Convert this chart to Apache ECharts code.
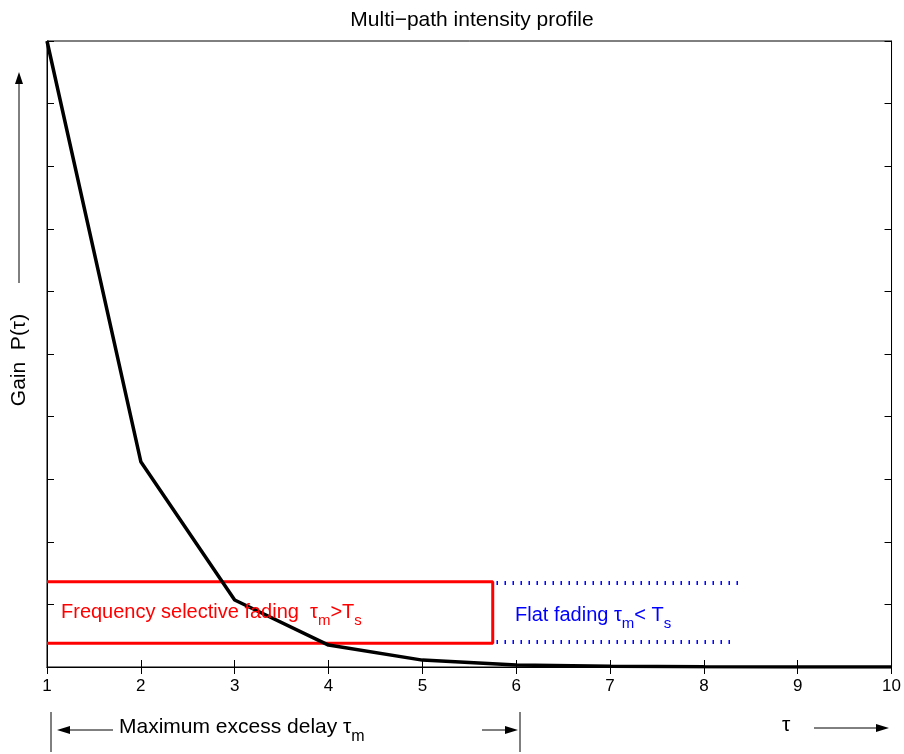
<!DOCTYPE html>
<html>
<head>
<meta charset="utf-8">
<script src="https://cdn.jsdelivr.net/npm/echarts@6/dist/echarts.min.js"></script>
<style>
  html, body { margin: 0; padding: 0; background: #fff; }
  #chart { width: 904px; height: 754px; }
</style>
</head>
<body>
<div id="chart"></div>
<script>
// delay values (x) and the multipath gain
var delays = [1, 2, 3, 4, 5, 6, 7, 8, 9, 10];
var gain = [1, 0.328, 0.107, 0.035, 0.011, 0.003, 0.001, 0.0004, 0.0001, 0.0001];

// red box = frequency selective region, blue dotted = flat fading region
var selectiveBox = [[1, 0.136], [5.75, 0.136], [5.75, 0.038], [1, 0.038]];
var flatTop = [[5.79, 0.134], [8.43, 0.134]];
var flatBottom = [[5.79, 0.040], [8.33, 0.040]];

var font = 'Liberation Sans, Arial, Helvetica, sans-serif';
var chart = echarts.init(document.getElementById('chart'));

function arrowHead(x, y, dir) {
    // small filled triangle, dir: 1 = right, -1 = left, 'up'
    if (dir === 'up') {
        return { type: 'polygon', shape: { points: [[x, y], [x - 4, y + 12], [x + 4, y + 12]] }, style: { fill: '#000' } };
    }
    return { type: 'polygon', shape: { points: [[x, y], [x - dir * 13, y - 4], [x - dir * 13, y + 4]] }, style: { fill: '#000' } };
}

function subText(str, color, size, subSize, drop) {
    return {
        text: str,
        rich: {
            n: { fontFamily: font, fontSize: size, fill: color, verticalAlign: 'top', lineHeight: size + 2 },
            s: { fontFamily: font, fontSize: subSize, fill: color, verticalAlign: 'top', lineHeight: size + 2, padding: [drop, 0, 0, 0] }
        }
    };
}

var axisLine = { show: true, lineStyle: { color: '#000', width: 1 } };
var tick = { show: true, inside: true, length: 7, lineStyle: { color: '#000' } };

var option = {
    animation: false,
    backgroundColor: '#fff',
    title: {
        text: 'Multi\u2212path intensity profile',
        left: 467, top: 5, textAlign: 'center',
        textStyle: { fontFamily: font, fontSize: 21, fontWeight: 'normal', color: '#000' }
    },
    grid: { left: 47, right: 12, top: 41, bottom: 87, show: true, borderColor: '#000', borderWidth: 1 },
    xAxis: [{
        type: 'value', min: 1, max: 10, interval: 1,
        axisLine: axisLine, axisTick: tick,
        axisLabel: { fontFamily: font, fontSize: 17, color: '#000', margin: 11 },
        splitLine: { show: false }
    }, {
        type: 'value', min: 1, max: 10, interval: 1, position: 'top',
        axisLine: axisLine, axisTick: tick,
        axisLabel: { show: false }, splitLine: { show: false }
    }],
    yAxis: [{
        type: 'value', min: 0, max: 1, interval: 0.1,
        axisLine: axisLine, axisTick: tick,
        axisLabel: { show: false }, splitLine: { show: false }
    }, {
        type: 'value', min: 0, max: 1, interval: 0.1, position: 'right',
        axisLine: axisLine, axisTick: tick,
        axisLabel: { show: false }, splitLine: { show: false }
    }],
    series: [{
        type: 'line', data: delays.map(function (d, i) { return [d, gain[i]]; }),
        showSymbol: false, lineStyle: { color: '#000', width: 3.5 }, z: 3
    }, {
        type: 'line', data: selectiveBox,
        showSymbol: false, lineStyle: { color: '#ff0000', width: 3 }, z: 2
    }, {
        type: 'line', data: flatTop,
        showSymbol: false, lineStyle: { color: '#0000ff', width: 4, type: [1.5, 6.5] }, z: 2
    }, {
        type: 'line', data: flatBottom,
        showSymbol: false, lineStyle: { color: '#0000ff', width: 4, type: [1.5, 6.5] }, z: 2
    }],
    graphic: [
        {
            type: 'text', left: 61, top: 602, z: 10,
            style: subText('{n|Frequency selective fading  \u03c4}{s|m}{n|>T}{s|s}', '#ff0000', 20, 15, 11)
        },
        {
            type: 'text', left: 515, top: 605, z: 10,
            style: subText('{n|Flat fading \u03c4}{s|m}{n|< T}{s|s}', '#0000ff', 20, 15, 11)
        },
        // y axis label with upward arrow
        {
            type: 'text', x: 9, y: 360, rotation: Math.PI / 2, z: 10,
            style: {
                text: 'Gain  P(\u03c4)', fontFamily: font, fontSize: 21, fill: '#000',
                align: 'center', verticalAlign: 'top'
            }
        },
        { type: 'line', shape: { x1: 19, y1: 283, x2: 19, y2: 80 }, style: { stroke: '#000', lineWidth: 1 } },
        arrowHead(19, 72, 'up'),
        // maximum excess delay span
        { type: 'line', shape: { x1: 51, y1: 712, x2: 51, y2: 752 }, style: { stroke: '#000', lineWidth: 1 } },
        { type: 'line', shape: { x1: 520, y1: 712, x2: 520, y2: 752 }, style: { stroke: '#000', lineWidth: 1 } },
        { type: 'line', shape: { x1: 65, y1: 730, x2: 113, y2: 730 }, style: { stroke: '#000', lineWidth: 1 } },
        arrowHead(57, 730, -1),
        { type: 'line', shape: { x1: 482, y1: 730, x2: 507, y2: 730 }, style: { stroke: '#000', lineWidth: 1 } },
        arrowHead(518, 730, 1),
        {
            type: 'text', left: 119, top: 717, z: 10,
            style: subText('{n|Maximum excess delay \u03c4}{s|m}', '#000', 21, 16, 12)
        },
        // tau direction arrow
        {
            type: 'text', left: 782, top: 715, z: 10,
            style: { text: '\u03c4', fontFamily: font, fontSize: 21, fill: '#000' }
        },
        { type: 'line', shape: { x1: 814, y1: 728, x2: 878, y2: 728 }, style: { stroke: '#000', lineWidth: 1 } },
        arrowHead(889, 728, 1)
    ]
};

chart.setOption(option);
</script>
</body>
</html>
